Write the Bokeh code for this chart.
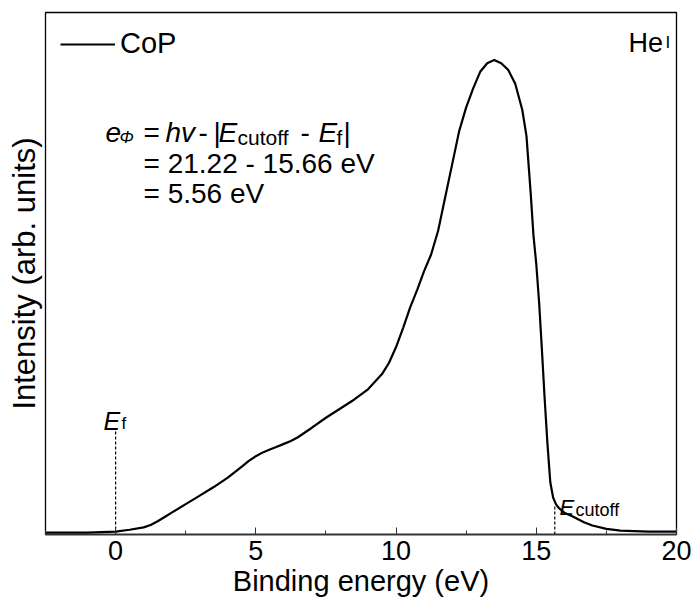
from bokeh.plotting import figure
from bokeh.models import Range1d, FixedTicker, Label
from bokeh.embed import file_html
from bokeh.resources import INLINE

# ---- data ----
binding_energy = [-2.5, -1.0, 0.0, 0.5, 1.0, 1.25, 1.5, 1.75, 2.0, 2.5, 3.0, 3.5, 4.0,
                  4.5, 4.75, 5.0, 5.25, 5.5, 5.75, 6.0, 6.25, 6.5, 6.75, 7.0, 7.5,
                  8.0, 8.5, 9.0, 9.5, 9.75, 10.0, 10.25, 10.5, 10.75, 11.0, 11.25,
                  11.5, 11.75, 12.0, 12.25, 12.5, 12.75, 13.0, 13.25, 13.5, 13.75,
                  14.0, 14.25, 14.5, 14.65, 14.8, 14.9, 15.0, 15.1, 15.2, 15.3, 15.4,
                  15.5, 15.6, 15.7, 15.8, 16.0, 16.3, 16.7, 17.0, 17.5, 18.0, 19.0,
                  20.0]
intensity = [0.4, 0.4, 0.6, 1.0, 1.5, 2.0, 2.8, 3.7, 4.6, 6.4, 8.2, 10.0, 12.0,
             14.3, 15.5, 16.5, 17.3, 17.9, 18.5, 19.1, 19.7, 20.5, 21.5, 22.5, 24.6,
             26.5, 28.4, 30.6, 33.8, 36.2, 39.5, 43.5, 47.8, 51.5, 55.5, 59.0,
             64.0, 71.0, 78.0, 85.0, 90.0, 94.0, 97.5, 99.3, 100.0, 99.3,
             97.9, 95.0, 89.5, 84.0, 72.0, 63.0, 57.0, 49.0, 39.0, 28.5, 19.0,
             11.0, 7.8, 6.4, 5.6, 4.6, 3.8, 2.6, 1.9, 1.2, 0.8, 0.6,
             0.6]
fermi_level = 0.0
cutoff_energy = 15.66
x_ticks = [0, 5, 10, 15, 20]
x_minor_ticks = [-2.5, 2.5, 7.5, 12.5, 17.5]

FONT = "Liberation Sans"

p = figure(width=693, height=607, output_backend="svg", toolbar_location=None,
           x_range=Range1d(-2.5, 20), y_range=Range1d(0, 110),
           min_border_left=45, min_border_right=17, min_border_top=12,
           min_border_bottom=73)
p.background_fill_color = "white"
p.border_fill_color = "white"
p.grid.visible = False
p.outline_line_color = "black"
p.outline_line_width = 1.3

ya = p.yaxis[0]
ya.ticker = FixedTicker(ticks=[])
ya.axis_line_color = None
ya.major_tick_line_color = None
ya.minor_tick_line_color = None
ya.major_tick_out = 0
ya.major_tick_in = 0
ya.minor_tick_out = 0
ya.major_label_standoff = 0
ya.axis_label = "Intensity (arb. units)"
ya.axis_label_text_font = FONT
ya.axis_label_text_font_size = "31px"
ya.axis_label_text_font_style = "normal"
ya.axis_label_text_color = "black"
ya.axis_label_standoff = 4

xa = p.xaxis[0]
xa.ticker = FixedTicker(ticks=x_ticks, minor_ticks=x_minor_ticks)
xa.major_tick_in = 7
xa.major_tick_out = 0
xa.minor_tick_in = 4
xa.minor_tick_out = 0
xa.axis_line_color = "#333333"
xa.axis_line_width = 1.5
xa.major_tick_line_color = "#333333"
xa.minor_tick_line_color = "#333333"
xa.major_label_text_font = FONT
xa.major_label_text_font_size = "27px"
xa.major_label_text_color = "black"
xa.major_label_standoff = 6
xa.axis_label = "Binding energy (eV)"
xa.axis_label_text_font = FONT
xa.axis_label_text_font_size = "29px"
xa.axis_label_text_font_style = "normal"
xa.axis_label_text_color = "black"
xa.axis_label_standoff = 2

p.line(binding_energy, intensity, line_color="black", line_width=2.2, legend_label="CoP")

# reference lines at E_f and E_cutoff
p.segment(x0=[fermi_level], y0=[0], x1=[fermi_level], y1=[22],
          line_color="black", line_width=1.2, line_dash="3 2")
p.segment(x0=[cutoff_energy], y0=[0], x1=[cutoff_energy], y1=[6],
          line_color="black", line_width=1.2, line_dash="3 2")

leg = p.legend[0]
leg.location = "top_left"
leg.border_line_color = None
leg.background_fill_alpha = 0
leg.label_text_font = FONT
leg.label_text_font_size = "29px"
leg.label_text_color = "black"
leg.glyph_width = 55
leg.glyph_height = 20
leg.label_standoff = 5
leg.margin = 15
leg.padding = 2

FL, FB = 45, 534  # frame left / bottom in canvas px

def lab(text, X, Y, size, style="normal", **kw):
    p.add_layout(Label(x=X - FL, y=FB - Y, x_units="screen", y_units="screen",
                       text=text, text_font=FONT, text_font_size=f"{size}px",
                       text_font_style=style, text_color="black",
                       text_baseline="alphabetic", **kw))

# equation
lab("e", 105, 132, 28, "italic")
lab("Φ", 119, 137, 17, "italic")
lab("=", 143, 132, 28)
lab("hv", 165, 132, 28, "italic")
lab("-", 198, 132, 28)
lab("|", 213, 132, 28)
lab("E", 218, 132, 28, "italic")
lab("cutoff", 237, 137, 21)
lab("-", 300, 132, 28)
lab("E", 318, 132, 28, "italic")
lab("f", 336, 137, 21)
lab("|", 343, 132, 28)
lab("= 21.22 - 15.66 eV", 143, 163, 28)
lab("= 5.56 eV", 143, 193, 28)

# E_f and E_cutoff markers
lab("E", 103, 420, 25, "italic")
lab("f", 121, 423, 17)
lab("E", 559, 507, 22, "italic")
lab("cutoff", 575, 509, 18)

# He I
lab("He", 628, 42, 27)
lab("I", 665, 42, 17)

open("out.html", "w").write(file_html(p, INLINE))
